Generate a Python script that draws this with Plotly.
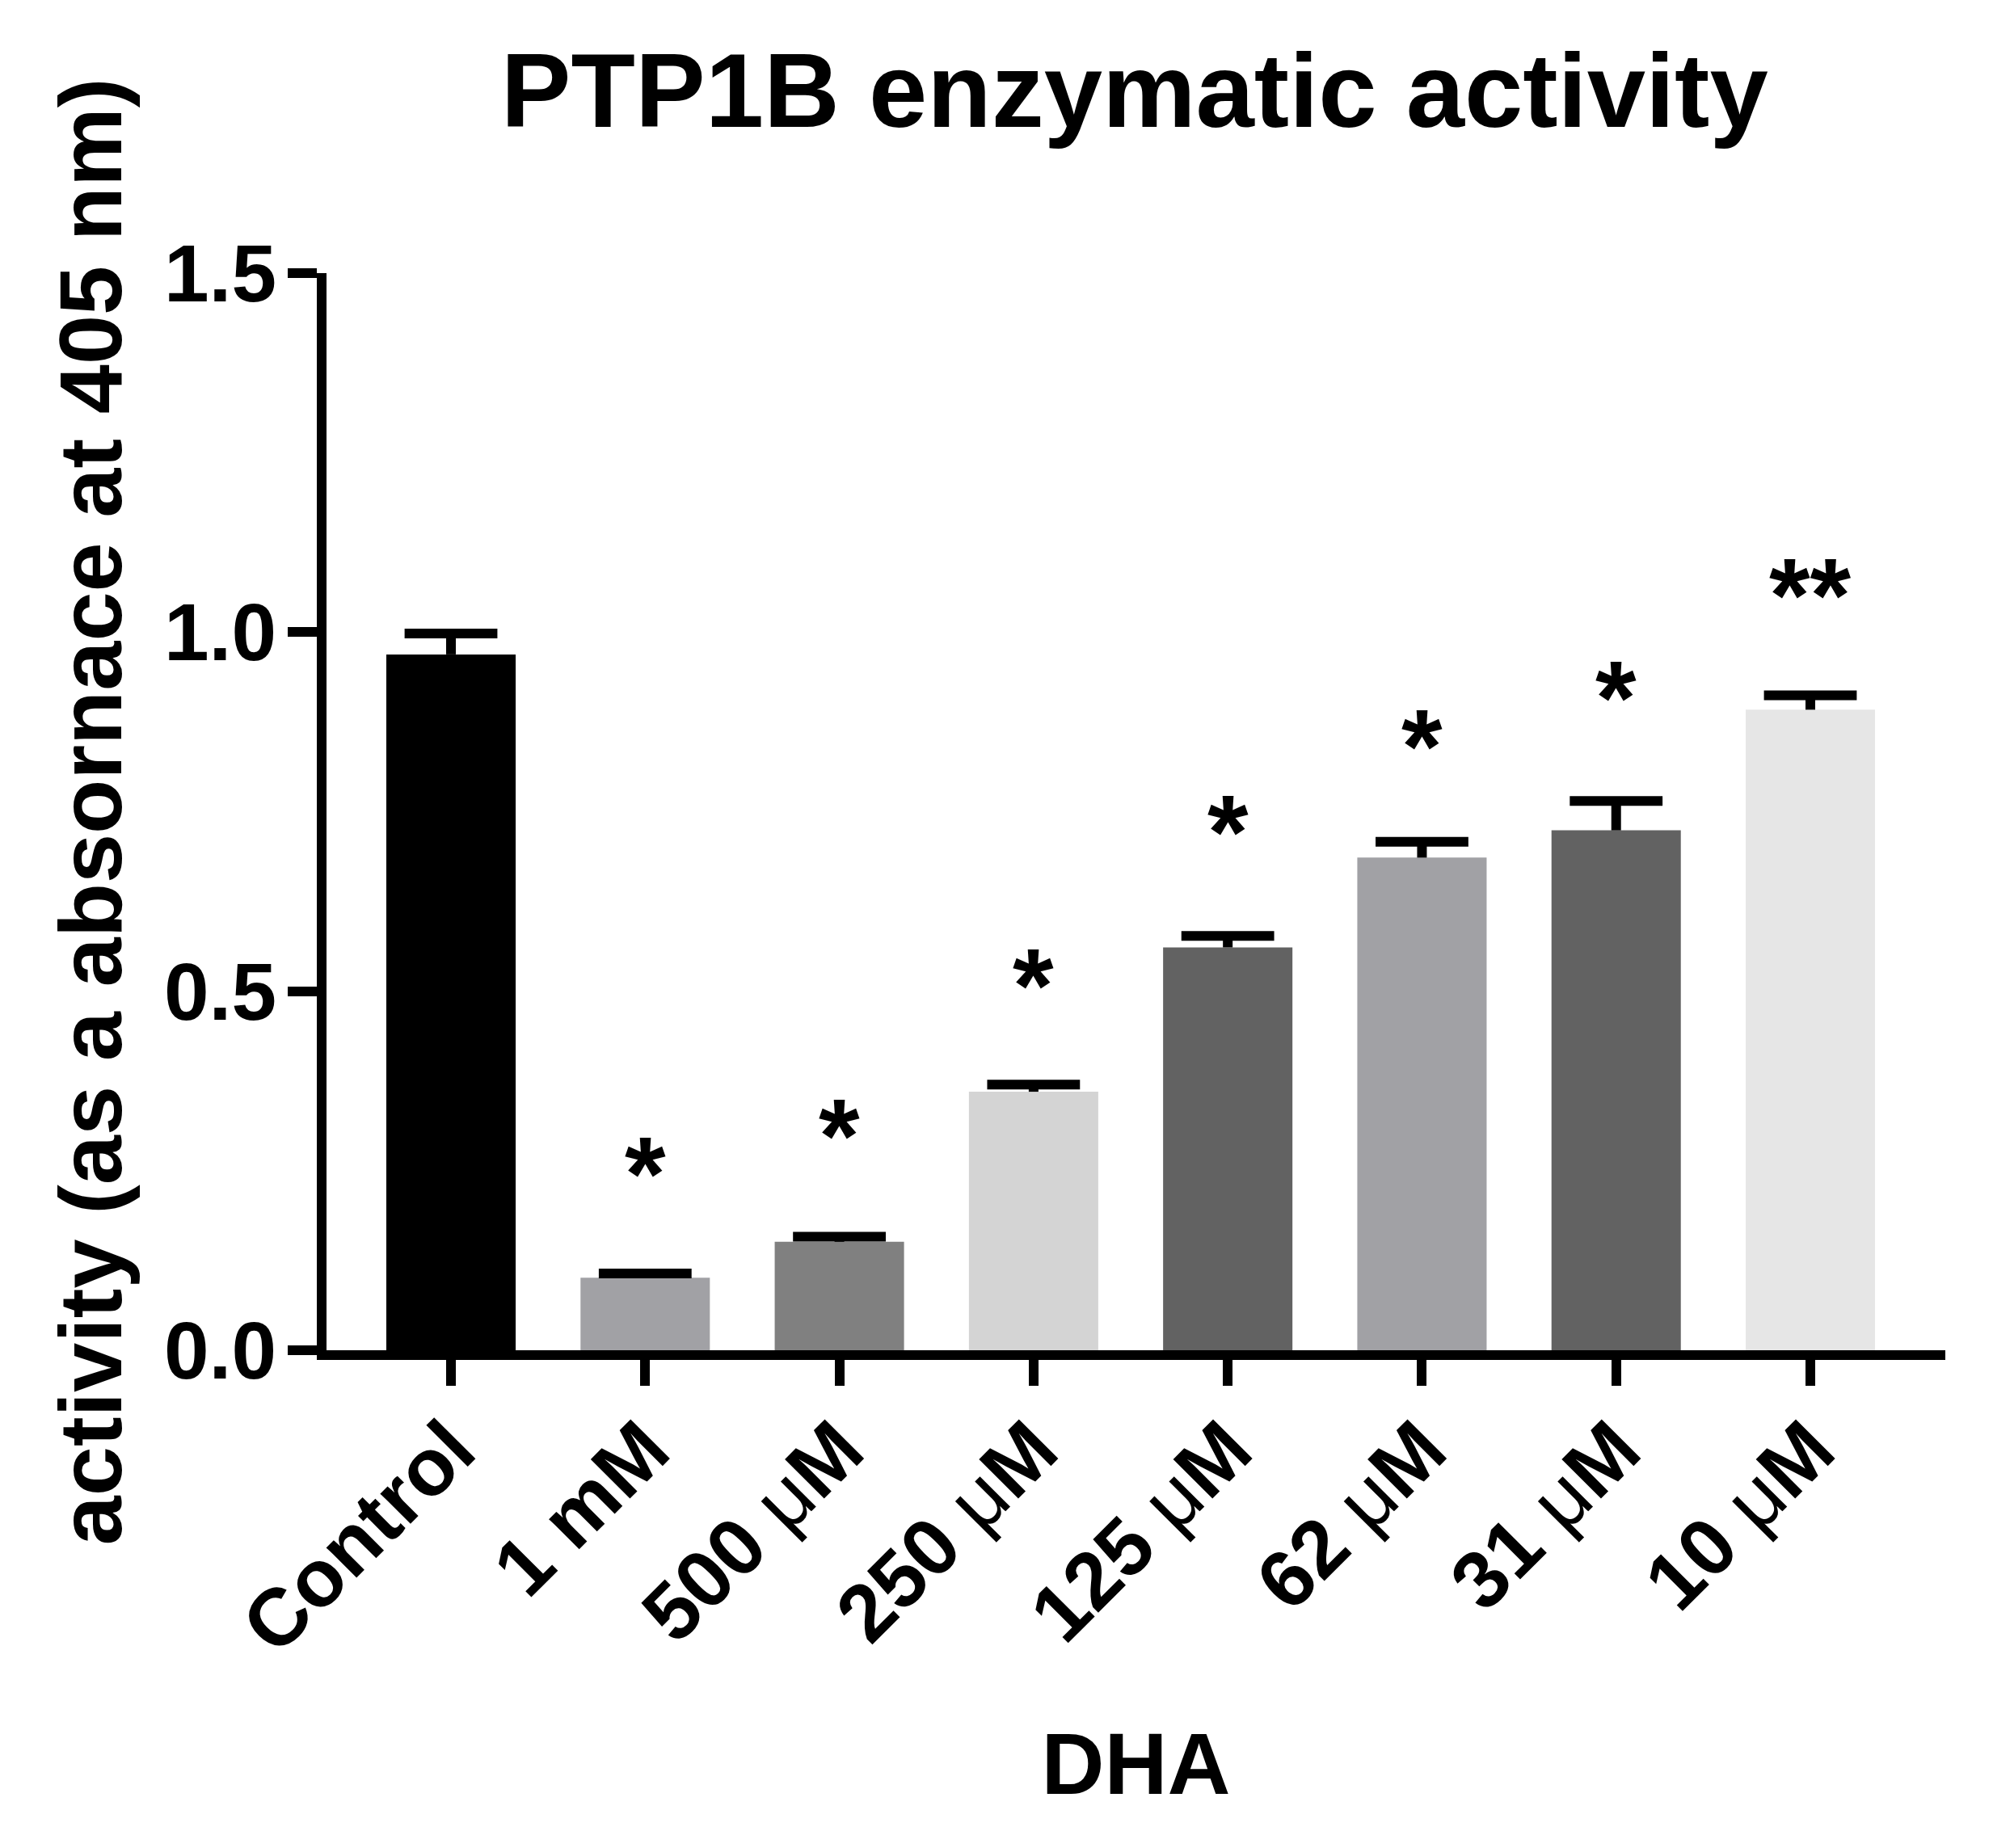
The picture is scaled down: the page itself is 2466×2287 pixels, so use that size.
import plotly.graph_objects as go

# DHA concentrations vs PTP1B activity (absorbance at 405 nm)
categories = ["Control", "1 mM", "500 μM", "250 μM", "125 μM", "62 μM", "31 μM", "10 μM"]
means = [0.969, 0.101, 0.151, 0.360, 0.561, 0.686, 0.724, 0.892]
err_up = [0.029, 0.006, 0.007, 0.010, 0.016, 0.022, 0.041, 0.020]
bar_colors = ["#000000", "#A1A1A5", "#808080", "#D4D4D4",
              "#626262", "#A1A1A5", "#626262", "#E6E6E6"]
star_text = ["", "*", "*", "*", "*", "*", "*", "**"]
star_y = [None, 0.268, 0.321, 0.530, 0.744, 0.863, 0.931, 1.073]

FONT = "Arial, Liberation Sans, sans-serif"


def tick_label(c):
    # the mu is set in a thin face in the original
    return c.replace("μ", '<span style="font-weight:normal">μ</span>')


fig = go.Figure()
# bars with upper stems only (no caps, so nothing shows at the bar top)
fig.add_trace(go.Bar(
    x=categories,
    y=means,
    marker=dict(color=bar_colors, line=dict(width=0)),
    error_y=dict(type="data", array=err_up, arrayminus=[0] * len(err_up),
                 symmetric=False, color="black", thickness=12, width=0),
    showlegend=False,
))
# caps at the top of each error bar
fig.add_trace(go.Scatter(
    x=categories,
    y=[m + e for m, e in zip(means, err_up)],
    mode="markers",
    marker=dict(symbol="line-ew", size=82, color="black",
                line=dict(width=12, color="black")),
    showlegend=False, hoverinfo="skip",
))

for c, t, yv in zip(categories, star_text, star_y):
    if not t:
        continue
    fig.add_annotation(x=c, y=yv, text=t, showarrow=False,
                       xref="x", yref="y", yanchor="middle", yshift=-20,
                       font=dict(family=FONT, size=130, color="black", weight="bold"))

fig.update_layout(
    width=2466, height=2287,
    plot_bgcolor="white", paper_bgcolor="white",
    margin=dict(l=396, r=67, t=330, b=624),
    bargap=0.334,
    title=dict(text="PTP1B enzymatic activity", x=0.566, xanchor="center",
               y=0.9745, yanchor="top",
               font=dict(family=FONT, size=130, color="black", weight="bold")),
    font=dict(family=FONT, color="black"),
)

fig.update_xaxes(
    type="category",
    range=[-0.641, 7.695],
    tickvals=categories,
    ticktext=[tick_label(c) for c in categories],
    tickangle=-45,
    tickfont=dict(family=FONT, size=100, color="black", weight="bold"),
    ticklabelstandoff=-20,
    ticks="outside", ticklen=32, tickwidth=12, tickcolor="black",
    showline=True, linewidth=12, linecolor="black",
    showgrid=False, zeroline=False,
    title=dict(text="DHA", standoff=84,
               font=dict(family=FONT, size=108, color="black", weight="bold")),
)

fig.update_yaxes(
    range=[0, 1.5],
    tickvals=[0, 0.5, 1.0, 1.5],
    ticktext=["0.0", "0.5", "1.0", "1.5"],
    tickfont=dict(family=FONT, size=100, color="black", weight="bold"),
    ticklabelstandoff=-6,
    ticks="outside", ticklen=36, tickwidth=12, tickcolor="black",
    showline=True, linewidth=12, linecolor="black",
    showgrid=False, zeroline=False,
    title=dict(text="activity (as a absornace at 405 nm)", standoff=20,
               font=dict(family=FONT, size=110, color="black", weight="bold")),
)

fig.write_html("out.html")
